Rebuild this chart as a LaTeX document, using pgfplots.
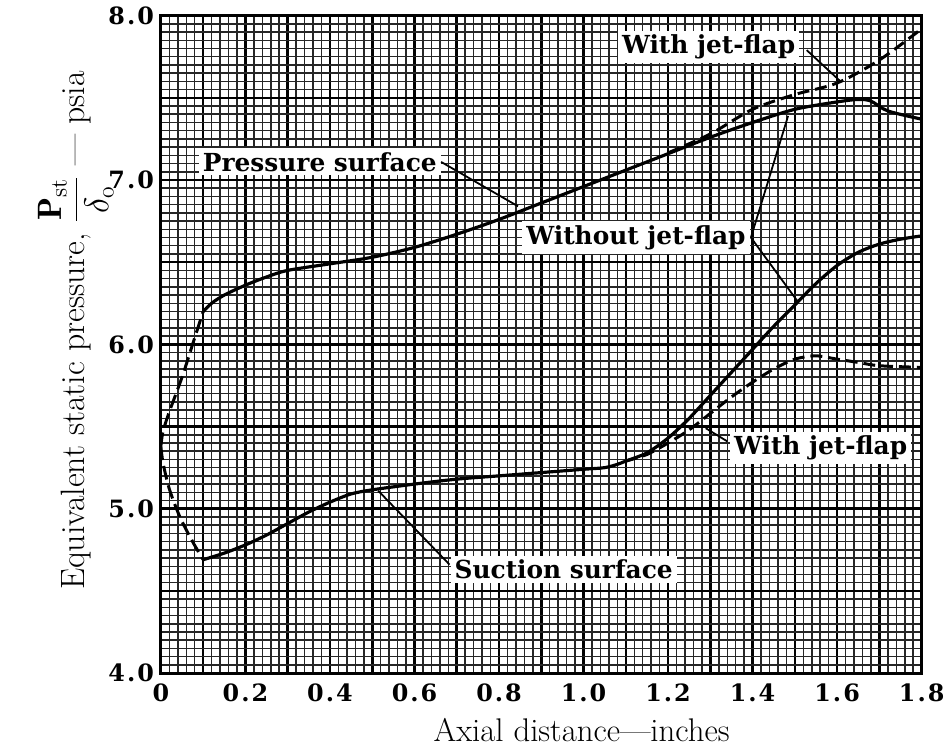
\documentclass[border=0pt]{standalone}
\usepackage{fontspec}
\usepackage{pgfplots}
\pgfplotsset{compat=1.18}
\newfontfamily\anno{DejaVu Serif}
\newcommand{\tl}[2]{#1\kern1pt.\kern1pt#2}

\pgfplotstableread{
x y
0.1 6.20
0.12 6.25
0.15 6.30
0.2 6.36
0.25 6.41
0.3 6.45
0.4 6.49
0.5 6.53
0.6 6.59
0.7 6.67
0.8 6.76
0.9 6.86
1.0 6.96
1.1 7.06
1.2 7.16
1.3 7.26
1.4 7.35
1.5 7.43
1.6 7.475
1.65 7.49
1.68 7.48
1.72 7.42
1.8 7.37
}\pressure

\pgfplotstableread{
x y
1.2 7.165
1.3 7.28
1.4 7.43
1.5 7.52
1.6 7.59
1.7 7.73
1.8 7.92
}\pressurejet

\pgfplotstableread{
x y
0.0 5.38
0.005 5.47
0.02 5.59
0.05 5.80
0.075 6.00
0.1 6.20
}\pressurele

\pgfplotstableread{
x y
0.0 5.38
0.005 5.28
0.02 5.12
0.045 4.95
0.075 4.80
0.1 4.69
}\suctionle

\pgfplotstableread{
x y
0.1 4.69
0.15 4.73
0.2 4.78
0.25 4.84
0.3 4.91
0.35 4.98
0.4 5.04
0.45 5.09
0.5 5.115
0.6 5.15
0.7 5.18
0.8 5.20
0.9 5.22
1.0 5.24
1.05 5.25
1.08 5.27
1.1 5.29
1.15 5.34
1.2 5.43
1.25 5.55
1.3 5.69
1.35 5.83
1.4 5.97
1.45 6.11
1.5 6.24
1.55 6.37
1.6 6.48
1.65 6.56
1.7 6.61
1.75 6.64
1.8 6.66
}\suction

\pgfplotstableread{
x y
1.1 5.29
1.15 5.33
1.2 5.40
1.25 5.48
1.3 5.58
1.35 5.68
1.4 5.77
1.45 5.85
1.5 5.91
1.55 5.93
1.6 5.91
1.65 5.89
1.7 5.87
1.8 5.86
}\suctionjet

\begin{document}
\begin{tikzpicture}
\begin{axis}[
  scale only axis, width=383pt, height=331pt,
  xmin=0, xmax=1.8, ymin=4, ymax=8,
  xtick={0,0.1,0.2,0.3,0.4,0.5,0.6,0.7,0.8,0.9,1.0,1.1,1.2,1.3,1.4,1.5,1.6,1.7,1.8},
  xticklabels={0,,\tl{0}{2},,\tl{0}{4},,\tl{0}{6},,\tl{0}{8},,\tl{1}{0},,\tl{1}{2},,\tl{1}{4},,\tl{1}{6},,\tl{1}{8}},
  ytick={4,4.5,5,5.5,6,6.5,7,7.5,8},
  yticklabels={\tl{4}{0},,\tl{5}{0},,\tl{6}{0},,\tl{7}{0},,\tl{8}{0}},
  minor x tick num=4, minor y tick num=9,
  grid=both,
  minor grid style={black!85, line width=0.75pt},
  major grid style={black, line width=1.3pt},
  major tick length=0pt, minor tick length=0pt,
  axis line style={line width=1.5pt},
  tick label style={font=\anno\bfseries\fontsize{12}{14}\selectfont},
  xticklabel style={yshift=-2pt},
  xlabel={Axial distance---inches},
  ylabel={Equivalent static pressure, $\displaystyle\frac{\mathbf{P}_{\mathrm{st}}}{\delta_{\mathrm{o}}}$ --- psia},
  label style={font=\fontsize{17}{19}\selectfont},
  xlabel style={at={(axis description cs:0.553,-0.104)}, anchor=base, font=\fontsize{16.5}{18}\selectfont},
  ylabel style={at={(axis description cs:-0.1,0.521)}, anchor=base},
  clip=true,
]
\addplot[black, line width=1.6pt, smooth, tension=0.5] table {\pressure};
\addplot[black, line width=1.6pt, smooth, tension=0.5] table {\suction};
\addplot[black, line width=1.5pt, smooth, tension=0.5, dash pattern=on 6pt off 3pt] table {\pressurejet};
\addplot[black, line width=1.5pt, smooth, tension=0.5, dash pattern=on 6pt off 3pt] table {\suctionjet};
\addplot[black, line width=1.5pt, smooth, tension=0.5, dash pattern=on 7pt off 3pt] table {\pressurele};
\addplot[black, line width=1.5pt, smooth, tension=0.5, dash pattern=on 7pt off 3pt] table {\suctionle};

\begin{scope}[every node/.style={fill=white, inner sep=2pt, font=\anno\bfseries\fontsize{12.5}{14}\selectfont}]
\node (ps) at (axis cs:0.376,7.11) {Pressure surface};
\node at (axis cs:1.124,6.65) {Without jet-flap};
\node at (axis cs:1.296,7.81) {With jet-flap};
\node at (axis cs:1.561,5.37) {With jet-flap};
\node at (axis cs:0.953,4.63) {Suction surface};
\end{scope}
\draw[line width=0.9pt] (ps.east) -- (axis cs:0.845,6.84);
\draw[line width=0.9pt] (axis cs:1.396,6.65) -- (axis cs:1.484,7.39);
\draw[line width=0.9pt] (axis cs:1.396,6.65) -- (axis cs:1.507,6.26);
\draw[line width=0.9pt] (axis cs:1.528,7.79) -- (axis cs:1.610,7.595);
\draw[line width=0.9pt] (axis cs:1.340,5.41) -- (axis cs:1.289,5.49);
\draw[line width=0.9pt] (axis cs:0.683,4.66) -- (axis cs:0.514,5.11);
\end{axis}
\path[use as bounding box] ([xshift=-81pt,yshift=-37pt]current axis.south west) rectangle ([xshift=11.5pt,yshift=7.5pt]current axis.north east);
\end{tikzpicture}
\end{document}
